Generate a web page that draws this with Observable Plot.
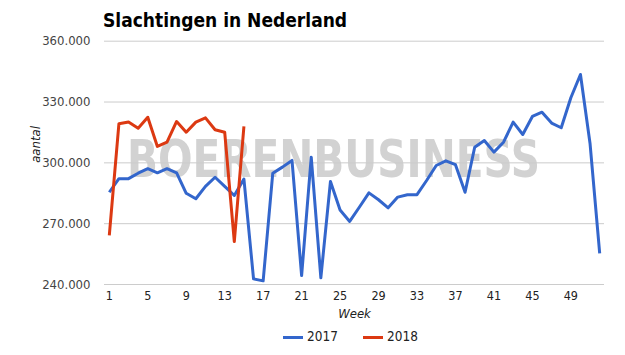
<!DOCTYPE html>
<html>
<head>
<meta charset="utf-8">
<script src="https://cdn.jsdelivr.net/npm/d3@7"></script>
<script src="https://cdn.jsdelivr.net/npm/@observablehq/plot@0.6"></script>
<style>
  body { margin: 0; background: #fff; }
  #wrap { position: relative; width: 625px; height: 355px; overflow: hidden;
          font-family: "DejaVu Sans Condensed", "DejaVu Sans", sans-serif; font-stretch: condensed; }
  #title { position: relative; height: 30px; }
  #title span { position: absolute; left: 103px; top: 11px; font-size: 19px; line-height: 1;
                font-weight: bold; color: #000; white-space: nowrap; }
  #chart { height: 295px; }
  #chart svg { display: block; }
  #legend { position: relative; height: 30px; }
  #legend .sw { position: absolute; top: 11px; width: 20px; height: 3px; }
  #legend .lb { position: absolute; top: 5px; font-size: 13.5px; line-height: 1; color: #222; }
</style>
</head>
<body>
<div id="wrap">
  <div id="title"><span>Slachtingen in Nederland</span></div>
  <div id="chart"></div>
  <div id="legend"></div>
</div>
<script>
const weeks2017 = [1,2,3,4,5,6,7,8,9,10,11,12,13,14,15,16,17,18,19,20,21,22,23,24,25,26,
                   27,28,29,30,31,32,33,34,35,36,37,38,39,40,41,42,43,44,45,46,47,48,49,50,51,52];
const aantal2017 = [285500,292200,292200,294900,297100,295100,297100,295100,285000,282300,
                    288400,292900,288400,283900,292000,242800,241800,294900,297900,301200,
                    244400,302800,243300,290800,276700,271100,278100,285200,281800,277800,
                    283100,284300,284300,291300,298700,301000,299100,285500,307700,311000,
                    305300,310200,320100,314000,322900,325000,319600,317300,332100,343600,
                    309400,255400];
const weeks2018 = [1,2,3,4,5,6,7,8,9,10,11,12,13,14,15];
const aantal2018 = [264200,319300,320100,317100,322500,308100,310200,320400,315100,320100,
                    322200,316300,315100,261200,318000];
const seriesNames = ["2017", "2018"];
const seriesColors = ["#3366cc", "#dc3912"];
const xTicks = [1,5,9,13,17,21,25,29,33,37,41,45,49];
const yTicks = [240000,270000,300000,330000,360000];
const titleText = "Slachtingen in Nederland";
const yLabel = "aantal";
const xLabel = "Week";
const watermark = "BOERENBUSINESS";

const rows = [
  ...weeks2017.map((w, i) => ({week: w, aantal: aantal2017[i], jaar: seriesNames[0]})),
  ...weeks2018.map((w, i) => ({week: w, aantal: aantal2018[i], jaar: seriesNames[1]}))
];

const nl = d3.formatLocale({decimal: ",", thousands: ".", grouping: [3], currency: ["€", ""]});
const fmt = nl.format(",");

const font = '"DejaVu Sans Condensed", "DejaVu Sans", sans-serif';

const chart = Plot.plot({
  width: 625,
  height: 295,
  marginLeft: 104,
  marginRight: 21,
  marginTop: 10.7,
  marginBottom: 41,
  style: {fontFamily: font, fontSize: "13px", background: "transparent", color: "#222"},
  x: {domain: [0.5, 52.5]},
  y: {domain: [240000, 360000]},
  color: {domain: seriesNames, range: seriesColors},
  marks: [
    Plot.text([watermark], {text: d => d, frameAnchor: "middle", dx: -21, dy: -2,
      fontSize: 52, fontWeight: "bold", fontFamily: "'DejaVu Sans', sans-serif", fill: "#d2d2d2"}),
    Plot.gridY(yTicks, {stroke: "#cccccc", strokeOpacity: 1, strokeWidth: 1}),
    Plot.axisY(yTicks, {tickSize: 0, tickPadding: 14, tickFormat: fmt, fill: "#444", label: null}),
    Plot.axisX(xTicks, {tickSize: 0, tickPadding: 7, fill: "#222", label: null, fontSize: 12.5}),
    Plot.text([yLabel], {text: d => d, frameAnchor: "left", dx: -69, rotate: -90,
      fontStyle: "italic", fill: "#222", fontSize: 13}),
    Plot.text([xLabel], {text: d => d, frameAnchor: "bottom", dy: 33,
      fontStyle: "italic", fill: "#222", fontSize: 13}),
    Plot.line(rows, {x: "week", y: "aantal", z: "jaar", stroke: "jaar", strokeWidth: 3,
      strokeLinejoin: "round", strokeLinecap: "butt"})
  ]
});

d3.select(chart).selectAll("text")
  .filter(function() { return this.textContent === watermark; })
  .attr("textLength", 413)
  .attr("lengthAdjust", "spacingAndGlyphs");

document.getElementById("chart").appendChild(chart);
document.querySelector("#title span").textContent = titleText;

const legend = d3.select("#legend");
const swX = [283, 363];
seriesNames.forEach((name, i) => {
  legend.append("span").attr("class", "sw")
    .style("left", swX[i] + "px").style("background", seriesColors[i]);
  legend.append("span").attr("class", "lb")
    .style("left", (swX[i] + 24) + "px").text(name);
});
</script>
</body>
</html>
